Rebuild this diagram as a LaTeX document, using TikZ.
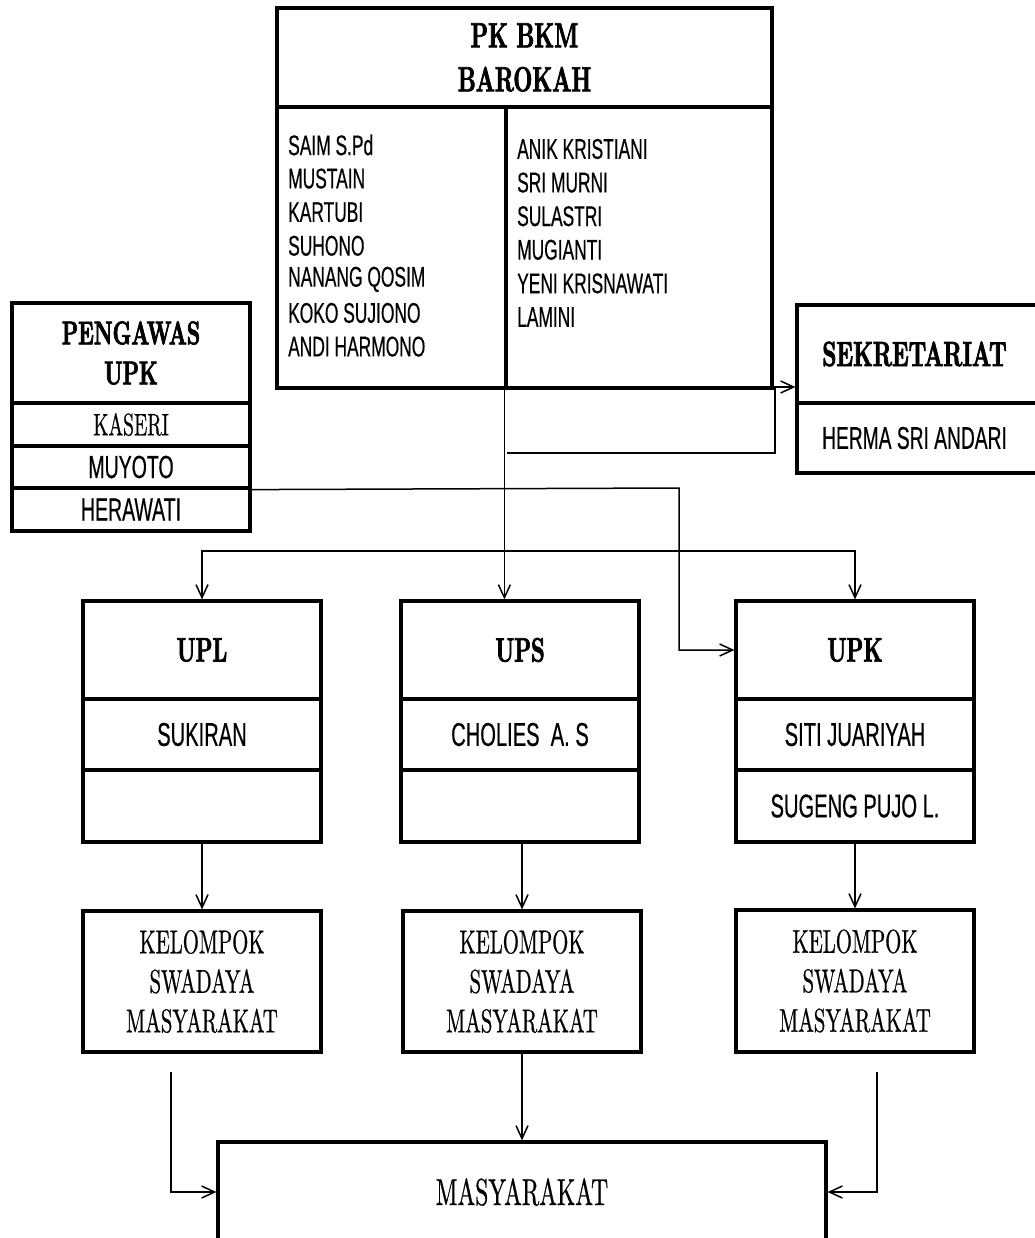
\documentclass[tikz,border=0pt]{standalone}
\usepackage{fontspec}
\usetikzlibrary{arrows.meta}
\newfontfamily\hd{lmroman10-regular.otf}[FakeStretch=0.63, FakeBold=0.6]
\newfontfamily\hdb{lmroman10-bold.otf}[FakeStretch=0.63, FakeBold=2]
\newfontfamily\nm{Liberation Sans}[FakeStretch=0.61, FakeBold=0.4]

\tikzset{
  box/.style={draw, line width=3.2pt, inner sep=0pt, minimum width=238pt},
  bhead/.style={font=\hdb\fontsize{34}{42}\selectfont, align=center},
  rhead/.style={font=\hd\fontsize{33}{39.5}\selectfont, align=center},
  nme/.style={font=\nm\fontsize{33}{38}\selectfont},
  lst/.style={font=\nm\fontsize{28.5}{33}\selectfont, inner sep=0pt, anchor=west},
  conn/.style={line width=1.5pt, -{Straight Barb[length=13pt,width=12pt,line width=1.5pt]}}
}

\begin{document}
\begin{tikzpicture}[x=1pt,y=-1pt]
\useasboundingbox (0,0) rectangle (1034,1238);

% PK BKM
\node[box, minimum width=495pt, minimum height=99pt, bhead, font=\hdb\fontsize{35}{44}\selectfont] (pk) at (524.5,57.5) {PK BKM\\BAROKAH};
\node[box, minimum width=229pt, minimum height=281pt] (pkL) at (391.5,247.5) {};
\node[box, minimum width=266pt, minimum height=281pt] (pkR) at (639,247.5) {};
\foreach \n [count=\i] in {SAIM S.Pd, MUSTAIN, KARTUBI, SUHONO, NANANG QOSIM, KOKO SUJIONO, ANDI HARMONO}
  \node[lst] (l\i) at (288,111.4+33.6*\i) {\n};
\foreach \n [count=\i] in {ANIK KRISTIANI, SRI MURNI, SULASTRI, MUGIANTI, YENI KRISNAWATI, LAMINI}
  \node[lst] (r\i) at (517,115.4+33.6*\i) {\n};

% pengawas
\node[box, minimum height=100pt, bhead, font=\hdb\fontsize{33}{40}\selectfont] (pgw) at (131,353) {PENGAWAS\\UPK};
\node[box, minimum height=43pt, rhead, font=\hd\fontsize{31}{36}\selectfont] (kaseri) at (131,424.5) {KASERI};
\node[box, minimum height=42pt, nme, font=\nm\fontsize{32}{36}\selectfont] (muyoto) at (131,467) {MUYOTO};
\node[box, minimum height=43pt, nme, font=\nm\fontsize{32}{36}\selectfont] (hera) at (131,509.5) {HERAWATI};

% sekretariat
\node[box, minimum width=243pt, minimum height=98pt, bhead, font=\hdb\fontsize{35}{42}\selectfont] (sek) at (918.5,354) {\hspace*{-8pt}SEKRETARIAT};
\node[box, minimum width=243pt, minimum height=70pt, nme, font=\nm\fontsize{31.5}{36}\selectfont] (sekN) at (918.5,438) {\hspace*{-8pt}HERMA SRI ANDARI};

% unit
\node[box, minimum height=98pt, bhead] (upl) at (202,650) {UPL};
\node[box, minimum height=71pt, nme] (uplN) at (202,734.5) {SUKIRAN};
\node[box, minimum height=72pt] (uplE) at (202,806) {};

\node[box, minimum height=98pt, bhead] (ups) at (520,650) {UPS};
\node[box, minimum height=71pt, nme] (upsN) at (520,734.5) {CHOLIES~~A. S};
\node[box, minimum height=72pt] (upsE) at (520,806) {};

\node[box, minimum height=98pt, bhead] (upk) at (855,650) {UPK};
\node[box, minimum height=71pt, nme] (upkN) at (855,734.5) {SITI JUARIYAH};
\node[box, minimum height=72pt, nme] (upkE) at (855,806) {SUGENG PUJO L.};

% ksm
\node[box, minimum height=141pt, rhead] (ksm1) at (202,981.5) {KELOMPOK\\SWADAYA\\MASYARAKAT};
\node[box, minimum height=141pt, rhead] (ksm2) at (522,981.5) {KELOMPOK\\SWADAYA\\MASYARAKAT};
\node[box, minimum height=142pt, rhead] (ksm3) at (855,981) {KELOMPOK\\SWADAYA\\MASYARAKAT};

% masyarakat
\node[box, minimum width=608pt, minimum height=100pt, rhead, font=\hd\fontsize{37.5}{42}\selectfont] (masy) at (522,1192) {MASYARAKAT};

% garis
\coordinate (bus) at (507,551);
\coordinate (cab) at (507,453);
\coordinate (turn) at (775,453);
\coordinate (pbend) at (679,488);
\coordinate (k1) at (171,1072);
\coordinate (k3) at (877,1072);

\draw[conn] (pkR.south west) -- (pkR.south west |- ups.north);
\draw[conn] (cab) -- (turn) |- (sek.west |- 0,387);
\draw[conn] (bus) -| (upl.north);
\draw[conn] (bus) -| (upk.north);
\draw[conn] (muyoto.south east) -- (pbend) |- (upk.west);

\draw[conn] (uplE.south) -- (ksm1.north);
\draw[conn] (ksm2.north |- upsE.south) -- (ksm2.north);
\draw[conn] (upkE.south) -- (ksm3.north);

\draw[conn] (k1) |- (masy.west);
\draw[conn] (ksm2.south) -- (masy.north);
\draw[conn] (k3) |- (masy.east);
\end{tikzpicture}
\end{document}
